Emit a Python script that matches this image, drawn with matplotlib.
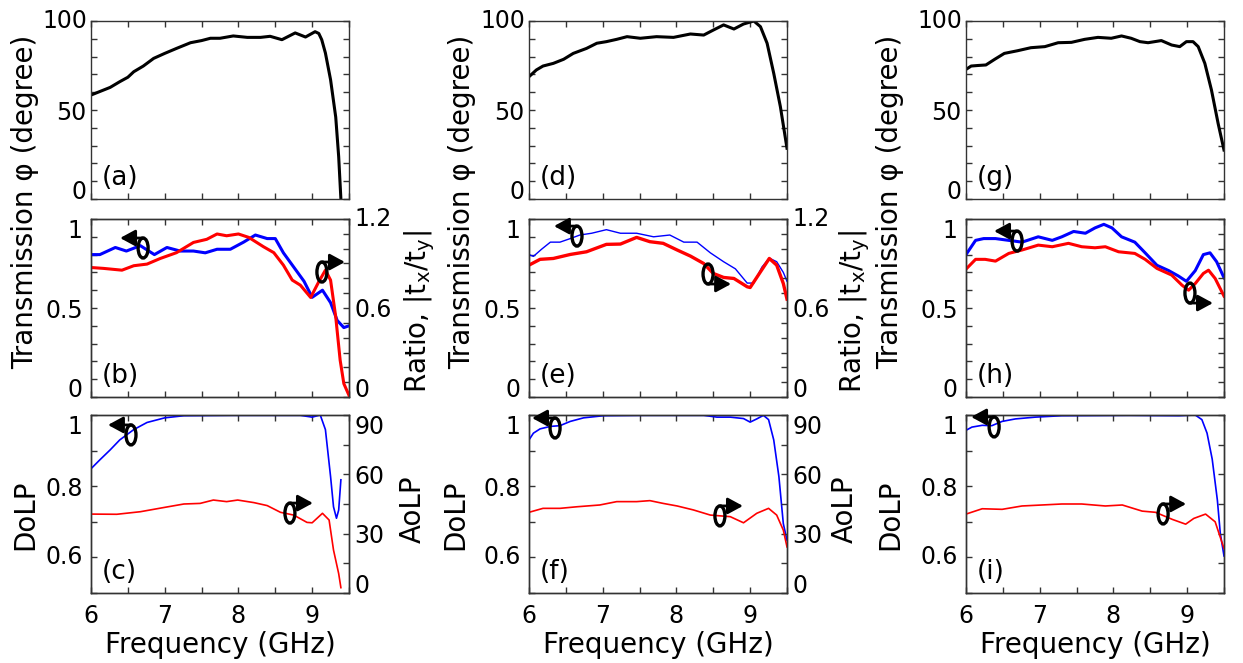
import matplotlib
matplotlib.use('Agg')
import matplotlib.pyplot as plt
from matplotlib.patches import Ellipse
from matplotlib.ticker import MultipleLocator

plt.rcParams['font.family'] = 'DejaVu Sans'

# ---------------- data ----------------
# (a) transmission phase
freq_a = [6.00, 6.26, 6.39, 6.50, 6.58, 6.71, 6.85, 7.00, 7.16, 7.35, 7.50, 7.62, 7.75, 7.93,
          8.12, 8.30, 8.43, 8.59, 8.77, 8.91, 9.04, 9.09, 9.13, 9.18, 9.25, 9.32, 9.36, 9.39]
phase_a = [58.4, 62.7, 65.9, 68.4, 71.5, 74.7, 79.0, 81.8, 84.6, 87.8, 89.0, 90.3, 90.3, 91.6,
           90.8, 90.8, 91.4, 89.5, 93.3, 91.0, 94.0, 93.0, 89.5, 82.0, 67.0, 46.0, 23.8, 0.0]
# (b) transmission (left) and ratio |tx/ty| (right)
freq_b_t = [6.00, 6.12, 6.33, 6.48, 6.67, 6.86, 7.03, 7.21, 7.39, 7.55, 7.71, 7.89, 8.07,
            8.23, 8.39, 8.50, 8.61, 8.75, 8.89, 9.00, 9.14, 9.25, 9.34, 9.43, 9.50]
trans_b = [0.80, 0.80, 0.84, 0.82, 0.85, 0.80, 0.84, 0.82, 0.82, 0.81, 0.83, 0.83, 0.87,
           0.91, 0.89, 0.89, 0.81, 0.73, 0.65, 0.56, 0.60, 0.53, 0.43, 0.39, 0.40]
freq_b_r = [6.00, 6.17, 6.42, 6.58, 6.76, 6.94, 7.16, 7.39, 7.57, 7.71, 7.84, 8.00, 8.14,
            8.34, 8.48, 8.61, 8.73, 8.84, 8.98, 9.09, 9.18, 9.25, 9.32, 9.38, 9.43, 9.50]
ratio_b = [0.873, 0.867, 0.855, 0.885, 0.896, 0.934, 0.973, 1.042, 1.063, 1.099, 1.087, 1.099,
           1.076, 1.013, 0.973, 0.889, 0.788, 0.754, 0.671, 0.777, 0.855, 0.788, 0.540, 0.248,
           0.090, 0.011]
# (c) DoLP (left) and AoLP (right)
freq_c_d = [6.00, 6.12, 6.26, 6.39, 6.58, 6.76, 7.00, 7.26, 7.93, 8.84, 9.00, 9.11, 9.18,
            9.25, 9.29, 9.33, 9.36, 9.39]
dolp_c = [0.849, 0.874, 0.902, 0.930, 0.959, 0.979, 0.992, 0.998, 0.999, 0.999, 0.994, 1.000,
          0.959, 0.827, 0.742, 0.710, 0.733, 0.818]
freq_c_a = [6.00, 6.35, 6.67, 7.00, 7.26, 7.48, 7.66, 7.84, 7.99, 8.21, 8.39, 8.57, 8.75,
            8.93, 9.00, 9.14, 9.23, 9.29, 9.36, 9.39]
aolp_c = [39.9, 39.8, 41.1, 43.3, 45.0, 45.3, 47.0, 46.2, 47.0, 45.7, 44.2, 40.8, 39.4,
          35.7, 35.5, 40.3, 36.9, 21.7, 9.8, 2.7]

# (d)
freq_d = [6.00, 6.10, 6.19, 6.33, 6.47, 6.60, 6.78, 6.92, 7.05, 7.19, 7.33, 7.51, 7.73, 7.96,
          8.19, 8.37, 8.50, 8.64, 8.78, 8.91, 9.05, 9.14, 9.23, 9.32, 9.41, 9.50]
phase_d = [68.7, 72.5, 74.7, 76.2, 78.5, 81.8, 84.6, 87.5, 88.4, 89.7, 91.2, 90.3, 91.2, 90.8,
           92.7, 92.1, 94.9, 97.8, 95.5, 98.3, 100.0, 96.8, 87.5, 70.6, 51.9, 28.5]
# (e)
freq_e_t = [6.00, 6.06, 6.17, 6.29, 6.42, 6.56, 6.69, 6.85, 7.05, 7.24, 7.46, 7.69, 7.91,
            8.10, 8.28, 8.46, 8.64, 8.80, 8.96, 9.05, 9.16, 9.26, 9.36, 9.45, 9.50]
trans_e = [0.80, 0.79, 0.83, 0.87, 0.87, 0.89, 0.91, 0.92, 0.94, 0.92, 0.92, 0.90, 0.91,
           0.87, 0.87, 0.81, 0.76, 0.72, 0.64, 0.64, 0.73, 0.78, 0.76, 0.70, 0.65]
freq_e_r = [6.00, 6.15, 6.33, 6.56, 6.78, 7.05, 7.24, 7.46, 7.64, 7.82, 8.01, 8.19, 8.37,
            8.50, 8.64, 8.78, 8.96, 9.00, 9.14, 9.26, 9.36, 9.45, 9.50]
ratio_e = [0.889, 0.928, 0.934, 0.961, 0.979, 1.029, 1.031, 1.076, 1.047, 1.036, 0.991, 0.950,
           0.900, 0.833, 0.806, 0.799, 0.743, 0.738, 0.844, 0.934, 0.889, 0.765, 0.660]
# (f)
freq_f_d = [6.00, 6.06, 6.15, 6.29, 6.42, 6.56, 6.74, 7.01, 7.55, 8.37, 8.55, 8.73, 8.91,
            9.00, 9.09, 9.18, 9.25, 9.32, 9.39, 9.45, 9.50]
dolp_f = [0.930, 0.949, 0.961, 0.968, 0.970, 0.982, 0.992, 0.998, 0.999, 0.999, 0.994, 0.994,
          0.990, 0.980, 0.989, 0.999, 0.987, 0.930, 0.827, 0.695, 0.648]
freq_f_a = [6.00, 6.19, 6.42, 6.65, 6.96, 7.19, 7.46, 7.64, 7.82, 8.01, 8.23, 8.46, 8.73,
            8.91, 9.09, 9.25, 9.36, 9.45, 9.50]
aolp_f = [40.8, 42.8, 42.8, 43.6, 44.5, 46.2, 46.2, 46.7, 45.3, 44.0, 42.0, 39.4, 38.6,
          35.5, 40.3, 42.8, 39.4, 31.8, 23.3]

# (g)
freq_g = [6.00, 6.07, 6.16, 6.27, 6.39, 6.52, 6.70, 6.88, 7.07, 7.25, 7.43, 7.61, 7.79, 7.97,
          8.11, 8.24, 8.36, 8.47, 8.65, 8.79, 8.90, 8.99, 9.08, 9.15, 9.24, 9.33, 9.42, 9.50]
phase_g = [72.8, 74.7, 75.0, 75.3, 78.5, 81.8, 83.3, 85.0, 85.6, 87.8, 88.0, 89.7, 90.8, 90.3,
           91.6, 90.3, 88.4, 87.8, 89.0, 86.5, 85.6, 88.4, 88.4, 85.6, 76.2, 61.2, 42.5, 27.5]
# (h)
freq_h_t = [6.00, 6.13, 6.24, 6.40, 6.58, 6.76, 6.98, 7.17, 7.30, 7.46, 7.62, 7.75, 7.87,
            7.98, 8.11, 8.29, 8.43, 8.59, 8.75, 8.88, 8.99, 9.11, 9.22, 9.31, 9.40, 9.50]
trans_h = [0.80, 0.88, 0.89, 0.89, 0.88, 0.87, 0.90, 0.88, 0.90, 0.93, 0.92, 0.95, 0.97,
           0.95, 0.90, 0.87, 0.81, 0.74, 0.71, 0.68, 0.65, 0.71, 0.80, 0.81, 0.76, 0.67]
freq_h_r = [6.00, 6.13, 6.26, 6.40, 6.58, 6.76, 6.98, 7.17, 7.39, 7.57, 7.75, 7.89, 8.07,
            8.29, 8.43, 8.59, 8.79, 8.93, 9.02, 9.11, 9.22, 9.29, 9.38, 9.50]
ratio_h = [0.862, 0.928, 0.928, 0.916, 0.968, 0.991, 1.024, 1.013, 1.036, 1.013, 1.006, 1.013,
           0.979, 0.968, 0.928, 0.867, 0.822, 0.754, 0.720, 0.765, 0.833, 0.855, 0.799, 0.680]
# (i)
freq_i_d = [6.00, 6.08, 6.22, 6.35, 6.49, 6.67, 6.94, 7.30, 8.21, 8.89, 9.11, 9.20, 9.27,
            9.34, 9.41, 9.45, 9.50]
dolp_i = [0.957, 0.966, 0.971, 0.970, 0.982, 0.989, 0.994, 0.998, 0.999, 0.998, 1.000, 0.987,
          0.949, 0.876, 0.761, 0.667, 0.604]
freq_i_a = [6.00, 6.22, 6.49, 6.76, 7.03, 7.30, 7.57, 7.89, 8.12, 8.39, 8.57, 8.80, 8.98,
            9.09, 9.25, 9.38, 9.50]
aolp_i = [39.9, 42.6, 42.3, 44.0, 44.5, 45.0, 45.0, 44.0, 44.5, 41.4, 40.8, 37.2, 34.8,
          37.7, 39.9, 36.0, 22.5]

panel_labels = ['(a)', '(b)', '(c)', '(d)', '(e)', '(f)', '(g)', '(h)', '(i)']

# ---------------- layout ----------------
W, H = 1243, 663
COL_LEFT = [91, 529, 966]
AX_W = 258
ROW_BOTTOM = [199, 397, 593]
AX_H = 178
SPINE = '0.2'

fig = plt.figure(figsize=(W / 100, H / 100), dpi=100)


def make_ax(col, row):
    return fig.add_axes([COL_LEFT[col] / W, 1 - ROW_BOTTOM[row] / H, AX_W / W, AX_H / H])


def style(ax, left=True, right=True, xlabels=False, ypad=6):
    ax.set_xlim(6, 9.5)
    ax.xaxis.set_major_locator(MultipleLocator(1))
    ax.xaxis.set_minor_locator(MultipleLocator(0.5))
    ax.tick_params(which='both', direction='in', length=4, width=1, color=SPINE,
                   top=True, bottom=True, left=left, right=right, labelsize=17,
                   labelbottom=xlabels)
    ax.tick_params(axis='y', pad=ypad)
    ax.tick_params(axis='x', pad=8)
    for s in ax.spines.values():
        s.set_color(SPINE)
        s.set_linewidth(1)


def edge_align(ax, first, last):
    # MATLAB keeps the end tick labels inside the box; mimic it
    ticks = ax.yaxis.get_major_ticks()
    for lab in (ticks[0].label1, ticks[0].label2):
        lab.set_verticalalignment(first)
    for lab in (ticks[-1].label1, ticks[-1].label2):
        lab.set_verticalalignment(last)


def loop_arrow(ax, cx, cy, side, at='top'):
    w, h = 10 / AX_W, 20 / AX_H
    ax.add_patch(Ellipse((cx, cy), w, h, angle=0, transform=ax.transAxes, fill=False,
                         lw=2.4, ec='k', zorder=6, clip_on=False))
    yy = cy + h / 2 if at == 'top' else cy - h / 2
    dx = 23 / AX_W
    x_end = cx - dx if side == 'left' else cx + dx
    ax.annotate('', xy=(x_end, yy), xytext=(cx, yy), xycoords='axes fraction',
                arrowprops=dict(arrowstyle='-|>,head_length=0.7,head_width=0.38', lw=2,
                                color='k', mutation_scale=13, shrinkA=0, shrinkB=0),
                zorder=6)


phase_sets = [(freq_a, phase_a), (freq_d, phase_d), (freq_g, phase_g)]
trans_sets = [(freq_b_t, trans_b, freq_b_r, ratio_b),
              (freq_e_t, trans_e, freq_e_r, ratio_e),
              (freq_h_t, trans_h, freq_h_r, ratio_h)]
pol_sets = [(freq_c_d, dolp_c, freq_c_a, aolp_c),
            (freq_f_d, dolp_f, freq_f_a, aolp_f),
            (freq_i_d, dolp_i, freq_i_a, aolp_i)]
trans_lw = [(2.2, 2.2), (1.0, 2.4), (2.2, 2.2)]

# indicator positions (axes fraction) for the middle and bottom rows
ind_mid = [[(0.202, 0.837, 'left', 'top'), (0.895, 0.702, 'right', 'top')],
           [(0.186, 0.904, 'left', 'top'), (0.694, 0.691, 'right', 'bottom')],
           [(0.198, 0.876, 'left', 'top'), (0.868, 0.584, 'right', 'bottom')]]
ind_bot = [[(0.155, 0.888, 'left', 'top'), (0.771, 0.449, 'right', 'top')],
           [(0.101, 0.927, 'left', 'top'), (0.740, 0.433, 'right', 'top')],
           [(0.109, 0.933, 'left', 'top'), (0.764, 0.444, 'right', 'top')]]

for c in range(3):
    # top row: phase
    ax = make_ax(c, 0)
    f, p = phase_sets[c]
    ax.plot(f, p, color='k', lw=2.2)
    ax.set_ylim(0, 100)
    ax.set_yticks([0, 50, 100])
    ax.yaxis.set_minor_locator(MultipleLocator(10))
    style(ax, ypad=3)
    edge_align(ax, 'baseline', 'center')
    ax.text(0.04, 0.12, panel_labels[3 * c], transform=ax.transAxes, fontsize=19,
            va='center', ha='left')

    # middle row: transmission / ratio
    ax = make_ax(c, 1)
    ft, t, fr, r = trans_sets[c]
    ax.plot(ft, t, color='#0000ff', lw=trans_lw[c][0], zorder=3)
    ax.set_ylim(0, 1)
    ax.set_yticks([0, 0.5, 1])
    ax.set_yticklabels(['0', '0.5', '1'])
    ax.yaxis.set_minor_locator(MultipleLocator(0.1))
    style(ax, right=False)
    edge_align(ax, 'baseline', 'top')
    ax2 = ax.twinx()
    ax2.plot(fr, r, color='#ff0000', lw=trans_lw[c][1], zorder=2)
    ax2.set_ylim(0, 1.2)
    ax2.set_yticks([0, 0.6, 1.2])
    ax2.set_yticklabels(['0', '0.6', '1.2'] if c < 2 else [])
    ax2.yaxis.set_minor_locator(MultipleLocator(0.1))
    style(ax2, left=False, ypad=4)
    if c < 2:
        edge_align(ax2, 'baseline', 'center')
    ax.text(0.04, 0.12, panel_labels[3 * c + 1], transform=ax.transAxes, fontsize=19,
            va='center', ha='left')
    for cx, cy, side, at in ind_mid[c]:
        loop_arrow(ax2, cx, cy, side, at)

    # bottom row: DoLP / AoLP
    ax = make_ax(c, 2)
    fd, d, fa, a = pol_sets[c]
    ax.plot(fd, d, color='#0000ff', lw=1.2, zorder=3)
    ax.set_ylim(0.5, 1)
    ax.set_yticks([0.6, 0.8, 1])
    ax.set_yticklabels(['0.6', '0.8', '1'])
    ax.yaxis.set_minor_locator(MultipleLocator(0.1))
    style(ax, right=False, xlabels=True)
    edge_align(ax, 'center', 'top')
    ax2 = ax.twinx()
    ax2.plot(fa, a, color='#ff0000', lw=1.2, zorder=2)
    ax2.set_ylim(0, 90)
    ax2.set_yticks([0, 30, 60, 90])
    ax2.set_yticklabels(['0', '30', '60', '90'] if c < 2 else [])
    ax2.yaxis.set_minor_locator(MultipleLocator(15))
    style(ax2, left=False, xlabels=True, ypad=4)
    if c < 2:
        edge_align(ax2, 'baseline', 'top')
    ax.text(0.04, 0.12, panel_labels[3 * c + 2], transform=ax.transAxes, fontsize=19,
            va='center', ha='left')
    for cx, cy, side, at in ind_bot[c]:
        loop_arrow(ax2, cx, cy, side, at)

    fig.text((COL_LEFT[c] + AX_W / 2) / W, 1 - 653 / H, 'Frequency (GHz)', fontsize=20,
             ha='center', va='baseline')

# y labels (figure pixel positions)
LAB = 20
for x in [25, 462, 890]:
    fig.text(x / W, 1 - 202 / H, 'Transmission φ (degree)', rotation=90, fontsize=LAB,
             ha='center', va='center')
for x in [25, 455, 890]:
    fig.text(x / W, 1 - 515 / H, 'DoLP', rotation=90, fontsize=LAB, ha='center', va='center')
for x in [420, 855]:
    fig.text(x / W, 1 - 312 / H, r'Ratio, |t$_\mathregular{x}$/t$_\mathregular{y}$|',
             rotation=90, fontsize=LAB, ha='center', va='center')
for x in [413, 845]:
    fig.text(x / W, 1 - 509 / H, 'AoLP', rotation=90, fontsize=LAB, ha='center', va='center')

fig.savefig('out.png', dpi=100)
